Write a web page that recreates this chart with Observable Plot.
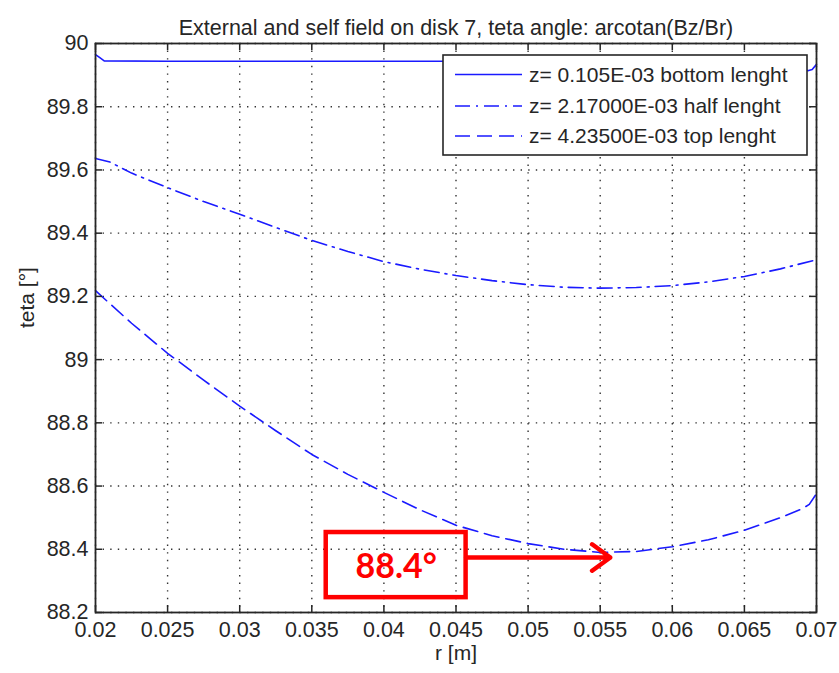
<!DOCTYPE html>
<html>
<head>
<meta charset="utf-8">
<script src="https://cdn.jsdelivr.net/npm/d3@7"></script>
<script src="https://cdn.jsdelivr.net/npm/@observablehq/plot@0.6"></script>
<style>
  html, body { margin: 0; padding: 0; background: #fff; }
  #chart { width: 839px; height: 673px; }
</style>
</head>
<body>
<div id="chart"></div>
<script>
// ---------- data ----------
const title = "External and self field on disk 7, teta angle: arcotan(Bz/Br)";
const xLabel = "r [m]";
const yLabel = "teta [°]";
const xTicks = [0.02, 0.025, 0.03, 0.035, 0.04, 0.045, 0.05, 0.055, 0.06, 0.065, 0.07];
const yTicks = [88.2, 88.4, 88.6, 88.8, 89, 89.2, 89.4, 89.6, 89.8, 90];
const seriesNames = [
  "z= 0.105E-03 bottom lenght",
  "z= 2.17000E-03 half lenght",
  "z= 4.23500E-03 top lenght"
];

const rBottom    = [0.02, 0.0203, 0.0206, 0.025, 0.03, 0.035, 0.04, 0.045, 0.05, 0.055, 0.06, 0.065, 0.067, 0.068, 0.069, 0.0694, 0.0697, 0.07];
const tetaBottom = [89.965, 89.955, 89.945, 89.944, 89.944, 89.944, 89.944, 89.944, 89.944, 89.944, 89.944, 89.943, 89.940, 89.934, 89.922, 89.914, 89.918, 89.934];

const rHalf    = [0.02, 0.021, 0.0225, 0.025, 0.0275, 0.03, 0.0325, 0.035, 0.0375, 0.04, 0.0425, 0.045, 0.0475, 0.05, 0.0525, 0.055, 0.0575, 0.06, 0.0625, 0.065, 0.0675, 0.07];
const tetaHalf = [89.636, 89.625, 89.59, 89.544, 89.50, 89.46, 89.418, 89.377, 89.342, 89.31, 89.286, 89.266, 89.25, 89.237, 89.229, 89.226, 89.228, 89.234, 89.246, 89.263, 89.287, 89.316];

const rTop    = [0.02, 0.0225, 0.025, 0.0275, 0.03, 0.0325, 0.035, 0.0375, 0.04, 0.0425, 0.045, 0.0475, 0.05, 0.0525, 0.055, 0.0575, 0.06, 0.0625, 0.065, 0.0675, 0.069, 0.0695, 0.07];
const tetaTop = [89.218, 89.115, 89.02, 88.935, 88.853, 88.775, 88.70, 88.637, 88.58, 88.525, 88.476, 88.443, 88.418, 88.40, 88.39, 88.393, 88.408, 88.43, 88.46, 88.50, 88.528, 88.542, 88.576];

const annotationLabel = "88.4°";

// ---------- build ----------
const toRows = (rs, ts, name) => rs.map((r, i) => ({r, teta: ts[i], name}));
const bottomRows = toRows(rBottom, tetaBottom, seriesNames[0]);
const halfRows   = toRows(rHalf, tetaHalf, seriesNames[1]);
const topRows    = toRows(rTop, tetaTop, seriesNames[2]);

const W = 839, H = 673, mT = 43, mB = 61, mL = 95, mR = 23;
const pw = W - mL - mR, ph = H - mT - mB;
const font = "'Liberation Sans', Arial, Helvetica, sans-serif";
const ink = "#262626";
const lineColor = "#1a1aff";
const dashStyles = [null, "15,6,2,6", "15,7"];

const plot = Plot.plot({
  width: W, height: H,
  marginTop: mT, marginBottom: mB, marginLeft: mL, marginRight: mR,
  style: {fontFamily: font, fontSize: "21.5px", color: ink, background: "#fff", overflow: "visible"},
  x: {domain: [0.02, 0.07], ticks: xTicks, tickFormat: d => String(d), tickSize: 0, tickPadding: 9, label: null},
  y: {domain: [88.2, 90], ticks: yTicks, tickFormat: d => String(d), tickSize: 0, tickPadding: 7, label: null},
  marks: [
    Plot.ruleX(xTicks, {stroke: "#333", strokeWidth: 1.4, strokeDasharray: "1.4,6.2"}),
    Plot.ruleY(yTicks, {stroke: "#333", strokeWidth: 1.4, strokeDasharray: "1.4,6.2"}),
    Plot.line(bottomRows, {x: "r", y: "teta", stroke: lineColor, strokeWidth: 1.6}),
    Plot.line(halfRows, {x: "r", y: "teta", stroke: lineColor, strokeWidth: 1.6, strokeDasharray: dashStyles[1]}),
    Plot.line(topRows, {x: "r", y: "teta", stroke: lineColor, strokeWidth: 1.6, strokeDasharray: dashStyles[2]}),
    Plot.tickX(xTicks, {insetTop: ph - 7, stroke: ink, strokeWidth: 1.5}),
    Plot.tickX(xTicks, {insetBottom: ph - 7, stroke: ink, strokeWidth: 1.5}),
    Plot.tickY(yTicks, {insetRight: pw - 7, stroke: ink, strokeWidth: 1.5}),
    Plot.tickY(yTicks, {insetLeft: pw - 7, stroke: ink, strokeWidth: 1.5}),
    Plot.frame({stroke: ink, strokeWidth: 1.8}),
    Plot.text([title], {text: d => d, frameAnchor: "top", dy: -24, fontSize: 21.5, fill: ink}),
    Plot.text([xLabel], {text: d => d, frameAnchor: "bottom", dy: 47, fontSize: 21, fill: ink}),
    Plot.text([yLabel], {text: d => d, frameAnchor: "left", dx: -68, rotate: -90, fontSize: 21, fill: ink}),
    // red annotation box, arrow and label
    Plot.rect([0], {x1: 0.036, x2: 0.0457, y1: 88.247, y2: 88.453, fill: "none", stroke: "#ff0000", strokeWidth: 4.5}),
    Plot.arrow([0], {x1: 0.0457, y1: 88.374, x2: 0.0557, y2: 88.374, stroke: "#ff0000", strokeWidth: 4.5, headLength: 7.5, headAngle: 72}),
    Plot.text([annotationLabel], {text: d => d, x: 0.04085, y: 88.345, fontSize: 34, fontWeight: "bold", fontFamily: "Lato, 'Liberation Sans', sans-serif", fill: "#ff0000"})
  ]
});

document.getElementById("chart").appendChild(plot);

// ---------- legend (overlay inside the SVG) ----------
const svg = d3.select(plot);
const lx = W - mR - 9 - 364, ly = mT + 12, lw = 364, lh = 100;
const g = svg.append("g").attr("font-family", font).attr("font-size", 21).attr("text-anchor", "start");
g.append("rect").attr("x", lx).attr("y", ly).attr("width", lw).attr("height", lh)
  .attr("fill", "#fff").attr("stroke", ink).attr("stroke-width", 1.6);
const rowY = [ly + 19.5, ly + 51, ly + 81];
seriesNames.forEach((name, i) => {
  g.append("line").attr("x1", lx + 12).attr("x2", lx + 79).attr("y1", rowY[i]).attr("y2", rowY[i])
    .attr("stroke", lineColor).attr("stroke-width", 1.6)
    .attr("stroke-dasharray", dashStyles[i]);
  g.append("text").attr("x", lx + 86).attr("y", rowY[i]).attr("dy", "0.35em")
    .attr("text-anchor", "start").attr("fill", ink).text(name);
});
</script>
</body>
</html>
